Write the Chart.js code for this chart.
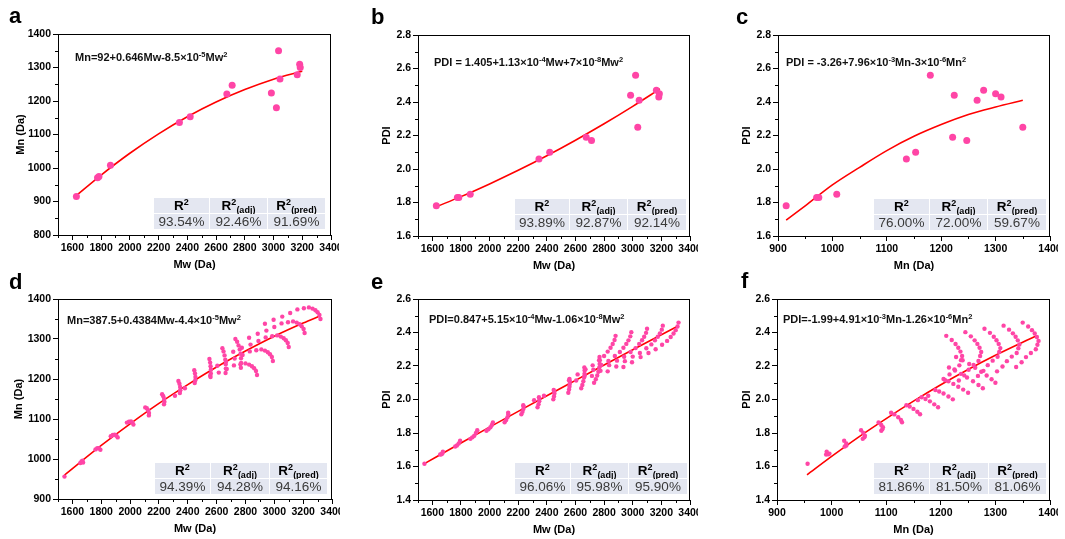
<!DOCTYPE html>
<html><head><meta charset="utf-8">
<script src="https://cdn.jsdelivr.net/npm/chart.js@4.4.0/dist/chart.umd.min.js"></script>
<style>
html,body{margin:0;padding:0;background:#fff;width:1065px;height:539px;overflow:hidden;position:relative;font-family:'Liberation Sans',Arial,Helvetica,sans-serif;}
canvas{position:absolute;}
.lbl{position:absolute;font-weight:bold;font-size:22px;line-height:22px;color:#000;}
.eq{position:absolute;font-weight:bold;font-size:11px;line-height:11px;white-space:nowrap;color:#111;}
.eq sup{font-size:7.5px;line-height:0;vertical-align:4px;}
.tbl{position:absolute;display:grid;gap:1px;}
.tbl > div{background:#e4e7f1;display:flex;align-items:center;justify-content:center;white-space:nowrap;}
.h{font-weight:bold;font-size:13.5px;color:#000;}
.h sup{font-size:9px;line-height:0;vertical-align:5px;}
.h sub{font-size:9px;line-height:0;vertical-align:-3px;}
.v{font-size:13.5px;color:#3a3a3a;}
</style></head><body>
<script>
// ---------------- data: panels a, b, c ----------------
const mwA  = [1628,1775,1785,1865,2345,2420,2675,2712,2985,3020,3035,3045,3165,3182,3186];
const mnA  = [915,971,975,1008,1136,1153,1221,1247,1224,1180,1350,1266,1278,1310,1300];
const pdiA = [1.78,1.83,1.83,1.85,2.06,2.10,2.19,2.17,2.44,2.56,2.25,2.41,2.47,2.43,2.45];

const fitAx = [1628,1800,2000,2200,2400,2600,2800,3000,3200];
const fitAy = [918,979,1044,1102,1153,1197,1234,1265,1289];
const fitBx = [1628,1800,2000,2200,2400,2600,2800,3000,3190];
const fitBy = [1.775,1.835,1.911,1.992,2.079,2.172,2.270,2.374,2.478];
const fitCx = [915,950,1000,1050,1100,1150,1200,1250,1300,1350];
const fitCy = [1.695,1.78,1.905,2.01,2.11,2.195,2.265,2.325,2.37,2.41];

// ---------------- data: panels d, e, f ----------------
const mwD = [1545,
1655,1663,1670,1674,
1760,1772,1784,1794,
1866,1880,1893,1905,1914,
1978,1992,2006,2016,2023,
2105,2116,2125,2131,2130,
2222,2230,2236,2238,2235,
2335,2342,2347,2348,2345,
2311,2380,
2445,2450,2453,2452,2448,
2558,2560,2560,2558,2555,2550,
2662,2664,2663,2660,2655,2648,2640,
2768,2770,2769,2766,2760,2752,2742,2730,
2880,2873,2860,2845,2825,2800,2765,2720,2670,2615,2555,
2990,2983,2970,2955,2935,2910,2875,2830,2780,2725,2665,2605,
3100,3093,3080,3065,3045,3020,2985,2940,2890,2835,2775,2715,
3210,3203,3190,3175,3155,3130,3095,3050,3000,2945,2885,2825,
3320,3313,3300,3285,3265,3240,3205,3160,3110,3055,2995,2935];
const mnD = [956,
990,994,996,991,
1024,1027,1027,1023,
1057,1060,1061,1058,1054,
1091,1093,1094,1091,1086,
1129,1127,1122,1115,1109,
1162,1157,1150,1143,1137,
1195,1188,1180,1172,1165,
1158,1177,
1222,1214,1205,1197,1190,
1205,1214,1223,1232,1241,1250,
1215,1226,1237,1248,1259,1269,1277,
1228,1240,1252,1263,1274,1284,1293,1300,
1210,1220,1227,1232,1236,1239,1237,1234,1225,1216,1208,
1245,1255,1262,1267,1271,1274,1272,1269,1260,1251,1243,1233,
1280,1290,1297,1302,1306,1309,1307,1304,1295,1286,1278,1268,
1315,1325,1332,1337,1341,1344,1342,1339,1330,1321,1313,1303,
1350,1360,1367,1372,1376,1379,1377,1374,1365,1356,1348,1338];
const pdiD = [1.616,
1.672,1.673,1.677,1.689,
1.719,1.725,1.737,1.754,
1.765,1.774,1.784,1.801,1.816,
1.813,1.822,1.834,1.848,1.863,
1.864,1.878,1.894,1.911,1.921,
1.912,1.927,1.944,1.958,1.966,
1.954,1.971,1.989,2.003,2.013,
1.996,2.022,
2.001,2.018,2.036,2.048,2.057,
2.123,2.109,2.093,2.076,2.059,2.040,
2.191,2.173,2.153,2.131,2.109,2.087,2.067,
2.254,2.234,2.212,2.190,2.166,2.143,2.121,2.100,
2.380,2.355,2.331,2.309,2.286,2.260,2.235,2.204,2.180,2.150,2.115,
2.402,2.377,2.353,2.332,2.309,2.284,2.260,2.230,2.206,2.178,2.144,2.113,
2.422,2.398,2.375,2.354,2.332,2.307,2.284,2.255,2.232,2.205,2.171,2.141,
2.441,2.417,2.395,2.375,2.353,2.329,2.306,2.278,2.256,2.229,2.197,2.168,
2.459,2.436,2.414,2.394,2.373,2.350,2.327,2.300,2.278,2.253,2.222,2.194];

const fitDx = [1545,1800,2000,2200,2400,2600,2800,3000,3200,3320];
const fitDy = [960,1034,1088,1139,1186,1230,1270,1307,1340,1358];
const fitEx = [1545,1800,2000,2200,2400,2600,2800,3000,3200,3320];
const fitEy = [1.617,1.740,1.835,1.929,2.022,2.114,2.206,2.297,2.387,2.440];
const fitFx = [955,1000,1050,1100,1150,1200,1250,1300,1350,1375];
const fitFy = [1.550,1.660,1.777,1.886,1.990,2.088,2.179,2.264,2.342,2.379];

// ---------------- tick labels ----------------
const ticksMw   = [1600,1800,2000,2200,2400,2600,2800,3000,3200,3400];
const ticksMnA  = [800,900,1000,1100,1200,1300,1400];
const ticksPdiB = [1.6,1.8,2.0,2.2,2.4,2.6,2.8];
const ticksMnC  = [900,1000,1100,1200,1300,1400];
const ticksMnD  = [900,1000,1100,1200,1300,1400];
const ticksPdiE = [1.4,1.6,1.8,2.0,2.2,2.4,2.6];

// ---------------- statistics tables ----------------
const statHeads = ['R<sup>2</sup>','R<sup>2</sup><sub>(adj)</sub>','R<sup>2</sup><sub>(pred)</sub>'];
const statsA = ['93.54%','92.46%','91.69%'];
const statsB = ['93.89%','92.87%','92.14%'];
const statsC = ['76.00%','72.00%','59.67%'];
const statsD = ['94.39%','94.28%','94.16%'];
const statsE = ['96.06%','95.98%','95.90%'];
const statsF = ['81.86%','81.50%','81.06%'];

// ---------------- drawing ----------------
const FONT = "'Liberation Sans', Arial, Helvetica, sans-serif";
const PINK = '#ff45a6';

const framePlugin = {
  id: 'frame',
  afterDraw(chart) {
    const {ctx, chartArea: {left, right, top, bottom}, scales: {x, y}} = chart;
    ctx.save();
    ctx.strokeStyle = '#000';
    ctx.lineWidth = 1;
    ctx.beginPath();
    ctx.moveTo(left, top + 0.5); ctx.lineTo(right, top + 0.5);
    ctx.moveTo(right - 0.5, top); ctx.lineTo(right - 0.5, bottom);
    const minors = (sc) => {
      const v = sc.ticks.map(t => t.value);
      const out = [];
      for (let i = 0; i < v.length - 1; i++) out.push((v[i] + v[i + 1]) / 2);
      const st = v[1] - v[0];
      if (v[0] - st / 2 >= sc.min - 1e-9) out.push(v[0] - st / 2);
      return out;
    };
    minors(x).forEach(m => { const p = Math.round(x.getPixelForValue(m)) + 0.5; ctx.moveTo(p, bottom); ctx.lineTo(p, bottom + 3); });
    minors(y).forEach(m => { const p = Math.round(y.getPixelForValue(m)) + 0.5; ctx.moveTo(left, p); ctx.lineTo(left - 3, p); });
    ctx.stroke();
    ctx.restore();
  }
};

function axis(min, max, ticks, dec, title, titlePad, horizontal) {
  return {
    type: 'linear', min, max,
    afterBuildTicks: s => { s.ticks = ticks.map(v => ({value: v})); },
    afterFit: s => {
      if (horizontal) { s.height = 40; s.paddingLeft = 0; s.paddingRight = 0; }
      else { s.width = 58; s.paddingTop = 0; s.paddingBottom = 0; }
    },
    grid: {display: true, drawOnChartArea: false, drawTicks: true, tickLength: 5, tickWidth: 1, tickColor: '#000'},
    border: {display: true, color: '#000', width: 1},
    ticks: {color: '#000', font: {family: FONT, size: 10.5, weight: 'bold'}, padding: 2, maxRotation: 0, autoSkip: false,
      callback: v => dec ? Number(v).toFixed(1) : String(v)},
    title: {display: true, text: title, color: '#000', font: {family: FONT, size: 11, weight: 'bold'},
      padding: horizontal ? {top: 0, bottom: titlePad} : {top: titlePad, bottom: 0}}
  };
}

function panel(o) {
  const padT = 8, padR = 8, yW = 58, xH = 40;
  const left = o.L - yW, top = o.T - padT, w = o.R + padR - left, h = o.B + xH - top;
  const cv = document.createElement('canvas');
  cv.width = w; cv.height = h;
  cv.style.left = left + 'px'; cv.style.top = top + 'px';
  cv.style.width = w + 'px'; cv.style.height = h + 'px';
  document.body.appendChild(cv);
  new Chart(cv, {
    type: 'scatter',
    data: {datasets: [
      {data: o.xs.map((v, i) => ({x: v, y: o.ys[i]})), pointRadius: o.r, pointHoverRadius: o.r,
        backgroundColor: PINK, borderWidth: 0, pointBorderWidth: 0},
      {data: o.fx.map((v, i) => ({x: v, y: o.fy[i]})), showLine: true, pointRadius: 0,
        borderColor: '#ff0000', borderWidth: 1.6, cubicInterpolationMode: 'monotone', fill: false}
    ]},
    options: {
      responsive: false, animation: false, devicePixelRatio: 1,
      layout: {padding: {top: padT, right: padR, left: 0, bottom: 0}},
      plugins: {legend: {display: false}, tooltip: {enabled: false}},
      scales: {
        x: axis(o.xMin, o.xMax, o.xTicks, false, o.xTitle, 3.5, true),
        y: axis(o.yMin, o.yMax, o.yTicks, o.yDec, o.yTitle, o.yPad, false)
      }
    },
    plugins: [framePlugin]
  });
}

function addDiv(cls, html, x, y) {
  const d = document.createElement('div');
  d.className = cls; d.innerHTML = html;
  d.style.left = x + 'px'; d.style.top = y + 'px';
  document.body.appendChild(d);
}

function table(x, y, cols, vals) {
  const t = document.createElement('div');
  t.className = 'tbl';
  t.style.left = x + 'px'; t.style.top = y + 'px';
  t.style.gridTemplateColumns = cols.map(c => c + 'px').join(' ');
  t.style.gridTemplateRows = '15px 15px';
  statHeads.forEach(hd => { const d = document.createElement('div'); d.className = 'h'; d.innerHTML = '<span>' + hd + '</span>'; t.appendChild(d); });
  vals.forEach(v => { const d = document.createElement('div'); d.className = 'v'; d.textContent = v; t.appendChild(d); });
  document.body.appendChild(t);
}

// panel a
panel({L:58, T:34, R:331, B:235, xs: mwA, ys: mnA, fx: fitAx, fy: fitAy, r: 3.5,
  xMin:1500, xMax:3400, yMin:800, yMax:1400, xTicks: ticksMw, yTicks: ticksMnA, yDec:false,
  xTitle:'Mw (Da)', yTitle:'Mn (Da)', yPad:14});
// panel b
panel({L:418, T:35, R:690, B:236, xs: mwA, ys: pdiA, fx: fitBx, fy: fitBy, r: 3.5,
  xMin:1500, xMax:3400, yMin:1.6, yMax:2.8, xTicks: ticksMw, yTicks: ticksPdiB, yDec:true,
  xTitle:'Mw (Da)', yTitle:'PDI', yPad:20});
// panel c
panel({L:778, T:35, R:1050, B:236, xs: mnA, ys: pdiA, fx: fitCx, fy: fitCy, r: 3.5,
  xMin:900, xMax:1400, yMin:1.6, yMax:2.8, xTicks: ticksMnC, yTicks: ticksPdiB, yDec:true,
  xTitle:'Mn (Da)', yTitle:'PDI', yPad:20});
// panel d
panel({L:58, T:299, R:332, B:499, xs: mwD, ys: mnD, fx: fitDx, fy: fitDy, r: 2.2,
  xMin:1500, xMax:3400, yMin:900, yMax:1400, xTicks: ticksMw, yTicks: ticksMnD, yDec:false,
  xTitle:'Mw (Da)', yTitle:'Mn (Da)', yPad:12});
// panel e
panel({L:418, T:299, R:690, B:500, xs: mwD, ys: pdiD, fx: fitEx, fy: fitEy, r: 2.2,
  xMin:1500, xMax:3400, yMin:1.4, yMax:2.6, xTicks: ticksMw, yTicks: ticksPdiE, yDec:true,
  xTitle:'Mw (Da)', yTitle:'PDI', yPad:20});
// panel f
panel({L:777, T:299, R:1050, B:500, xs: mnD, ys: pdiD, fx: fitFx, fy: fitFy, r: 2.2,
  xMin:900, xMax:1400, yMin:1.4, yMax:2.6, xTicks: ticksMnC, yTicks: ticksPdiE, yDec:true,
  xTitle:'Mn (Da)', yTitle:'PDI', yPad:21});

// panel letters
addDiv('lbl', 'a', 9, 5);
addDiv('lbl', 'b', 371, 6);
addDiv('lbl', 'c', 736, 6);
addDiv('lbl', 'd', 9, 271);
addDiv('lbl', 'e', 371, 271);
addDiv('lbl', 'f', 741, 270);

// equations
addDiv('eq', 'Mn=92+0.646Mw-8.5&times;10<sup>-5</sup>Mw<sup>2</sup>', 75, 52);
addDiv('eq', 'PDI = 1.405+1.13&times;10<sup>-4</sup>Mw+7&times;10<sup>-8</sup>Mw<sup>2</sup>', 434, 57);
addDiv('eq', 'PDI = -3.26+7.96&times;10<sup>-3</sup>Mn-3&times;10<sup>-6</sup>Mn<sup>2</sup>', 786, 57);
addDiv('eq', 'Mn=387.5+0.4384Mw-4.4&times;10<sup>-5</sup>Mw<sup>2</sup>', 67, 315);
addDiv('eq', 'PDI=0.847+5.15&times;10<sup>-4</sup>Mw-1.06&times;10<sup>-8</sup>Mw<sup>2</sup>', 429, 314);
addDiv('eq', 'PDI=-1.99+4.91&times;10<sup>-3</sup>Mn-1.26&times;10<sup>-6</sup>Mn<sup>2</sup>', 783, 314);

// tables
table(154, 198, [55, 57, 57], statsA);
table(515, 199, [54, 57, 58], statsB);
table(874, 199, [55, 57, 58], statsC);
table(155, 463, [55, 58, 57], statsD);
table(515, 463, [55, 57, 58], statsE);
table(874, 463, [55, 58, 57], statsF);
</script>
</body></html>
